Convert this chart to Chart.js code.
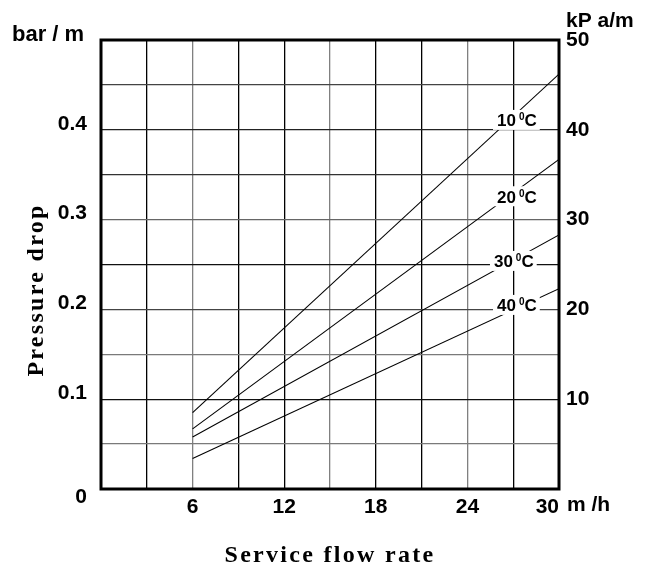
<!DOCTYPE html>
<html>
<head>
<meta charset="utf-8">
<script src="https://cdn.jsdelivr.net/npm/chart.js@4.4.1/dist/chart.umd.min.js"></script>
<style>
  html, body { margin: 0; padding: 0; background: #fff; }
  #wrap { width: 646px; height: 568px; position: relative; }
</style>
</head>
<body>
<div id="wrap"><canvas id="c"></canvas></div>
<script>
// ---- data ----
const flowRates = [6, 30];                 // m3/h
const seriesNames = ['10', '20', '30', '40']; // °C
const drop10 = [0.085, 0.462];             // bar/m
const drop20 = [0.067, 0.367];
const drop30 = [0.058, 0.283];
const drop40 = [0.034, 0.223];
const xTickLabels = [6, 12, 18, 24, 30];
const leftTickLabels = [0.1, 0.2, 0.3, 0.4];
const rightTickLabels = [10, 20, 30, 40, 50];

const SANS = "'Liberation Sans', Arial, sans-serif";
const SERIF = "'Liberation Serif', 'Times New Roman', serif";

const allDrops = [drop10, drop20, drop30, drop40];
const datasets = allDrops.map((arr, i) => ({
  label: seriesNames[i] + ' °C',
  data: flowRates.map((x, j) => ({ x: x, y: arr[j] })),
  borderColor: '#000',
  borderWidth: 1.1,
  pointRadius: 0,
  fill: false,
  tension: 0,
  yAxisID: 'y'
}));

// annotation placement for the curve labels (data coords: left edge x, centre y)
const curveLabelAnchors = [[25.94, 0.411], [25.94, 0.326], [25.74, 0.254], [25.94, 0.205]];

function near(a, b) { return Math.abs(a - b) < 1e-6; }

const xGridColor = (ctx) => {
  const v = ctx.tick ? ctx.tick.value : 0;
  return (near(v, 6) || near(v, 15) || near(v, 24)) ? '#808080' : '#000';
};
const yGridColors = { 5: '#7a7a7a', 10: '#111', 15: '#7a7a7a', 20: '#444', 25: '#111', 30: '#666', 35: '#333', 40: '#222', 45: '#444' };
const yGridColor = (ctx) => {
  const v = ctx.tick ? Math.round(ctx.tick.value * 100) : 0;
  return yGridColors[v] || '#000';
};

const decor = {
  id: 'decor',
  afterDatasetsDraw(chart) {
    const { ctx, chartArea: ca, scales } = chart;
    const xs = scales.x, ys = scales.y;
    ctx.save();
    // curve labels with white background
    curveLabelAnchors.forEach((a, i) => {
      const px = xs.getPixelForValue(a[0]);
      const py = ys.getPixelForValue(a[1]);
      ctx.font = 'bold 17px ' + SANS;
      const w1 = ctx.measureText(seriesNames[i]).width;
      ctx.font = 'bold 10px ' + SANS;
      const w2 = ctx.measureText('0').width;
      ctx.font = 'bold 17px ' + SANS;
      const w3 = ctx.measureText('C').width;
      const gap = 3;
      const total = w1 + gap + w2 + w3;
      ctx.fillStyle = '#fff';
      ctx.fillRect(px - 4, py - 10, total + 7, 20);
      ctx.fillStyle = '#000';
      ctx.textBaseline = 'alphabetic';
      ctx.textAlign = 'left';
      const base = py + 6.5;
      ctx.font = 'bold 17px ' + SANS;
      ctx.fillText(seriesNames[i], px, base);
      ctx.font = 'bold 10px ' + SANS;
      ctx.fillText('0', px + w1 + gap, base - 6);
      ctx.font = 'bold 17px ' + SANS;
      ctx.fillText('C', px + w1 + gap + w2, base);
    });
    // frame
    ctx.strokeStyle = '#000';
    ctx.lineWidth = 3;
    ctx.strokeRect(ca.left, ca.top, ca.right - ca.left, ca.bottom - ca.top);
    ctx.restore();
  },
  afterDraw(chart) {
    const { ctx, chartArea: ca } = chart;
    ctx.save();
    ctx.fillStyle = '#000';
    ctx.textBaseline = 'middle';
    ctx.textAlign = 'left';
    ctx.font = 'bold 22px ' + SANS;
    ctx.fillText('bar / m', 12, 35);
    ctx.font = 'bold 21px ' + SANS;
    ctx.fillText('kP a/m', 566, 21);
    ctx.fillText('m /h', 567, 505);
    ctx.textAlign = 'right';
    ctx.fillText('0', 87, 497);
    // axis titles
    ctx.font = 'bold 24px ' + SERIF;
    try { ctx.letterSpacing = '2.3px'; } catch (e) {}
    ctx.textAlign = 'center';
    ctx.fillText('Service flow rate', (ca.left + ca.right) / 2, 556);
    ctx.translate(37, 290);
    ctx.rotate(-Math.PI / 2);
    ctx.fillText('Pressure drop', 0, 0);
    ctx.restore();
  }
};

new Chart(document.getElementById('c'), {
  type: 'line',
  data: { datasets: datasets },
  options: {
    responsive: true,
    maintainAspectRatio: false,
    animation: false,
    layout: { padding: { top: 40, left: 0, right: 0, bottom: 0 } },
    plugins: { legend: { display: false }, tooltip: { enabled: false } },
    scales: {
      x: {
        type: 'linear', position: 'bottom', min: 0, max: 30,
        afterFit(s) { s.height = 79; },
        border: { display: false },
        grid: { color: xGridColor, lineWidth: 1.3, drawTicks: false },
        ticks: {
          stepSize: 3, autoSkip: false, maxRotation: 0, align: 'inner', padding: 6,
          color: '#000', font: { family: SANS, size: 21, weight: 'bold' },
          callback: (v) => xTickLabels.some(t => near(t, v)) ? String(v) : ''
        }
      },
      y: {
        type: 'linear', position: 'left', min: 0, max: 0.5,
        afterFit(s) { s.width = 101; },
        border: { display: false },
        grid: { color: yGridColor, lineWidth: 1.3, drawTicks: false },
        ticks: {
          stepSize: 0.05, autoSkip: false, padding: 14, labelOffset: -6,
          color: '#000', font: { family: SANS, size: 21, weight: 'bold' },
          callback: (v) => {
            const t = leftTickLabels.find(t => near(t, v));
            return t !== undefined ? t.toFixed(1) : '';
          }
        }
      },
      y2: {
        type: 'linear', position: 'right', min: 0, max: 50,
        afterFit(s) { s.width = 87; },
        border: { display: false },
        grid: { display: false, drawTicks: false },
        ticks: {
          stepSize: 5, autoSkip: false, padding: 7,
          color: '#000', font: { family: SANS, size: 21, weight: 'bold' },
          callback: (v) => rightTickLabels.some(t => near(t, v)) ? String(v) : ''
        }
      }
    }
  },
  plugins: [decor]
});
</script>
</body>
</html>
